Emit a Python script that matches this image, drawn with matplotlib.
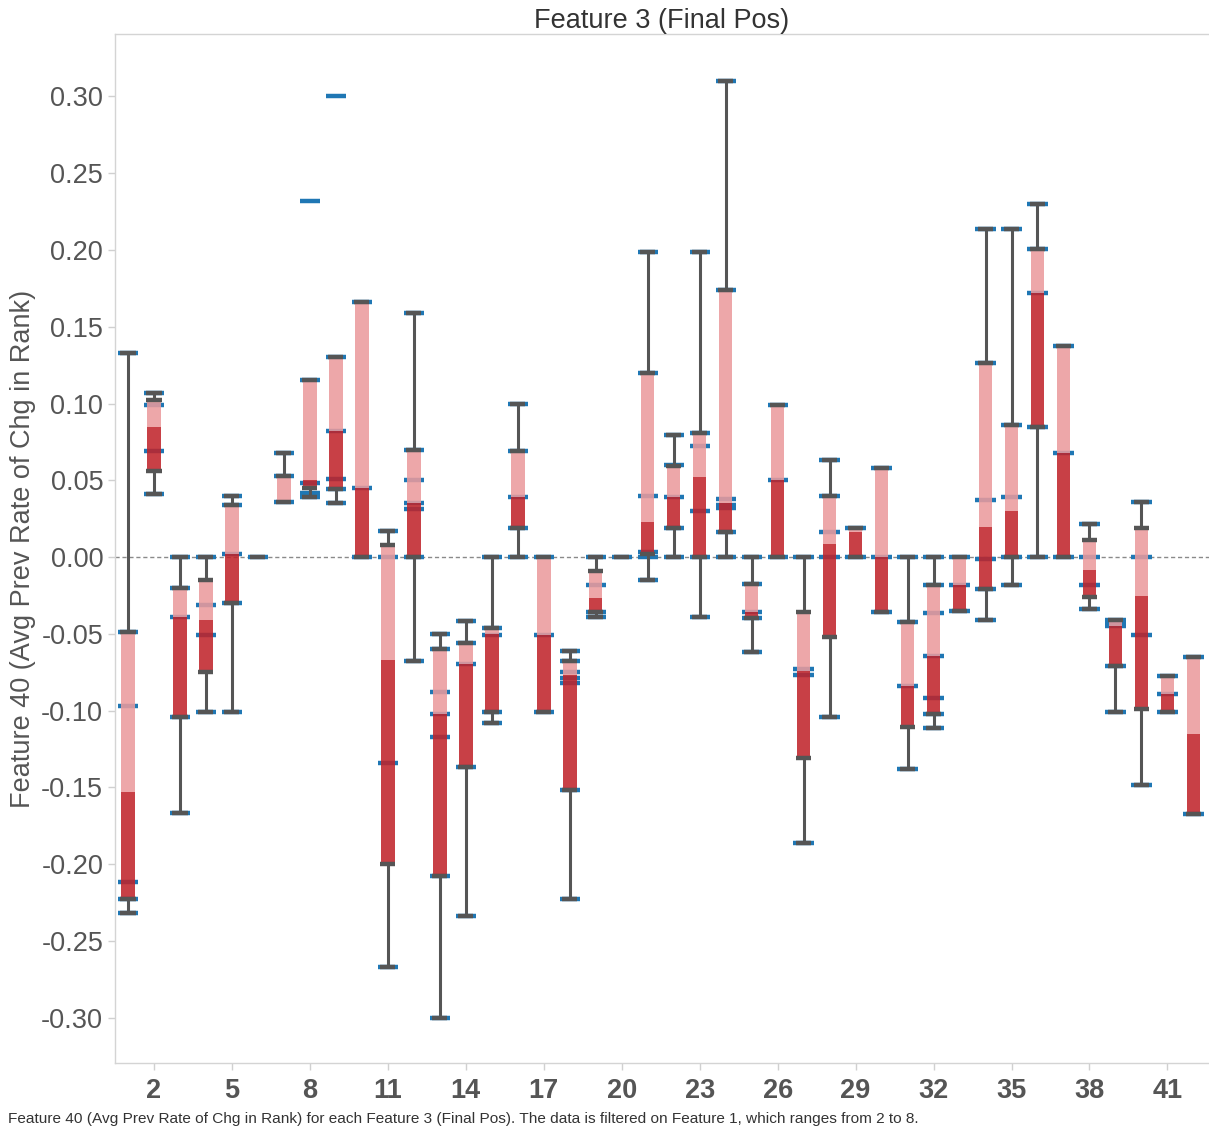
import matplotlib.pyplot as plt

plt.rcParams["font.family"] = ["Liberation Sans", "DejaVu Sans"]

# Feature 3 (Final Pos) categories
positions = list(range(1, 43))

# box plot summary per category
whisker_lo = [-0.232, 0.041, -0.167, -0.101, -0.101, 0.000, 0.036, 0.039, 0.035, 0.000,
              -0.267, -0.068, -0.300, -0.234, -0.108, 0.000, -0.101, -0.223, -0.039, 0.000,
              -0.015, 0.000, -0.039, 0.000, -0.062, 0.000, -0.186, -0.1045, 0.000, -0.036,
              -0.138, -0.1116, -0.035, -0.041, -0.018, 0.000, 0.000, -0.034, -0.101, -0.1485,
              -0.101, -0.1674]
q1 = [-0.223, 0.056, -0.104, -0.075, -0.030, 0.000, 0.036, 0.045, 0.044, 0.000,
      -0.200, 0.000, -0.208, -0.137, -0.101, 0.019, -0.101, -0.152, -0.036, 0.000,
      0.002, 0.019, 0.000, 0.0165, -0.040, 0.000, -0.131, -0.052, 0.000, -0.036,
      -0.111, -0.102, -0.035, -0.021, 0.000, 0.0849, 0.000, -0.026, -0.071, -0.0992,
      -0.101, -0.1674]
median = [-0.153, 0.085, -0.039, -0.041, 0.002, 0.000, 0.036, 0.050, 0.082, 0.045,
          -0.067, 0.035, -0.102, -0.070, -0.050, 0.039, -0.051, -0.077, -0.0265, 0.000,
          0.023, 0.039, 0.052, 0.0355, -0.036, 0.050, -0.074, 0.0085, 0.0165, 0.000,
          -0.084, -0.0645, -0.018, 0.0193, 0.030, 0.1718, 0.0675, -0.0085, -0.045, -0.0254,
          -0.0895, -0.1153]
q3 = [-0.049, 0.102, -0.020, -0.015, 0.034, 0.000, 0.053, 0.115, 0.130, 0.166,
      0.008, 0.070, -0.060, -0.056, -0.046, 0.069, 0.000, -0.068, -0.009, 0.000,
      0.120, 0.0595, 0.0805, 0.174, -0.0175, 0.099, -0.036, 0.040, 0.0187, 0.058,
      -0.0425, -0.018, 0.000, 0.1266, 0.086, 0.2006, 0.1375, 0.011, -0.041, 0.0187,
      -0.0775, -0.065]
whisker_hi = [0.133, 0.107, 0.000, 0.000, 0.040, 0.000, 0.068, 0.115, 0.130, 0.166,
              0.017, 0.159, -0.050, -0.042, 0.000, 0.0995, 0.000, -0.061, 0.000, 0.000,
              0.199, 0.0795, 0.199, 0.310, 0.000, 0.099, 0.000, 0.0635, 0.0187, 0.058,
              0.000, 0.000, 0.000, 0.2135, 0.2135, 0.2297, 0.1375, 0.0215, -0.041, 0.0356,
              -0.0775, -0.065]

# individual values (one list per category)
point_values = [
    [0.133, -0.049, -0.097, -0.212, -0.223, -0.232],
    [0.107, 0.099, 0.069, 0.041],
    [0.0, -0.020, -0.039, -0.104, -0.167],
    [0.0, -0.031, -0.051, -0.101],
    [0.040, 0.034, 0.002, -0.030, -0.101],
    [0.0],
    [0.068, 0.053, 0.036],
    [0.232, 0.115, 0.048, 0.042, 0.039],
    [0.300, 0.130, 0.082, 0.051, 0.044, 0.035],
    [0.166, 0.045, 0.0],
    [0.017, 0.0, -0.134, -0.267],
    [0.159, 0.070, 0.050, 0.035, 0.031, 0.0, -0.068],
    [-0.050, -0.060, -0.088, -0.102, -0.117, -0.208, -0.300],
    [-0.042, -0.056, -0.070, -0.137, -0.234],
    [0.0, -0.046, -0.051, -0.101, -0.108],
    [0.0995, 0.069, 0.039, 0.019, 0.0],
    [0.0, -0.051, -0.101],
    [-0.061, -0.068, -0.075, -0.079, -0.082, -0.152, -0.223],
    [0.0, -0.018, -0.036, -0.039],
    [0.0],
    [0.199, 0.120, 0.040, 0.003, 0.0, -0.015],
    [0.0795, 0.060, 0.039, 0.019, 0.0],
    [0.199, 0.0805, 0.072, 0.030, 0.0, -0.039],
    [0.310, 0.174, 0.038, 0.034, 0.032, 0.0165, 0.0],
    [0.0, -0.0175, -0.036, -0.040, -0.062],
    [0.099, 0.050, 0.0],
    [0.0, -0.073, -0.077, -0.186],
    [0.0635, 0.040, 0.0165, 0.0, -0.1045],
    [0.0187, 0.0],
    [0.058, 0.0, -0.036],
    [0.0, -0.0425, -0.084, -0.138],
    [0.0, -0.018, -0.0367, -0.0645, -0.092, -0.102, -0.1116],
    [0.0, -0.018, -0.035],
    [0.2135, 0.1266, 0.037, -0.001, -0.021, -0.041],
    [0.2135, 0.086, 0.039, 0.0, -0.018],
    [0.2297, 0.2006, 0.1718, 0.0849, 0.0],
    [0.1375, 0.0675, 0.0],
    [0.0215, 0.0, -0.018, -0.034],
    [-0.041, -0.043, -0.045, -0.071, -0.101],
    [0.0356, 0.0, -0.051, -0.1485],
    [-0.0775, -0.0895, -0.101],
    [-0.065, -0.1674],
]

tick_positions = list(range(2, 43, 3))
y_ticks = [0.30, 0.25, 0.20, 0.15, 0.10, 0.05, 0.00, -0.05, -0.10, -0.15, -0.20, -0.25, -0.30]

TEXT = "#555555"
PINK = "#eb9a9c"
RED = "#c0242a"
BLUE = "#1f77b4"
GREY = "#555555"

fig = plt.figure(figsize=(12.09, 11.28), dpi=100)
ax = fig.add_axes([115 / 1209, 1 - 1063 / 1128, 1 - 115 / 1209, (1063 - 34) / 1128])

ax.axhline(0, color="#8a8a8a", lw=1, ls=(0, (3, 2)), zorder=1)

# blue value marks sit underneath the boxes
for x, vals in zip(positions, point_values):
    ax.hlines(vals, x - 0.39, x + 0.39, color=BLUE, lw=3.2, zorder=2)

box_w = 0.52
for i, x in enumerate(positions):
    # whiskers stop at the box edges
    ax.vlines(x, whisker_lo[i], q1[i], color=GREY, lw=2.2, zorder=3)
    ax.vlines(x, q3[i], whisker_hi[i], color=GREY, lw=2.2, zorder=3)
    ax.bar(x, median[i] - q1[i], bottom=q1[i], width=box_w, color=RED,
           alpha=0.87, lw=0, zorder=4)
    ax.bar(x, q3[i] - median[i], bottom=median[i], width=box_w, color=PINK,
           alpha=0.87, lw=0, zorder=4)
    caps = {whisker_lo[i], q1[i], q3[i], whisker_hi[i]}
    ax.hlines(sorted(caps), x - 0.29, x + 0.29, color=GREY, lw=3.2, zorder=5)

ax.set_xlim(0.5, 42.6)
ax.set_ylim(-0.3296, 0.3407)
ax.set_yticks(y_ticks)
ax.set_yticklabels([f"{v:.2f}" for v in y_ticks])
ax.set_xticks(tick_positions)
ax.set_xticklabels([str(t) for t in tick_positions], fontweight="bold")
ax.tick_params(axis="y", labelsize=19.5, colors="#d0d0d0", labelcolor=TEXT, length=5, width=1)
ax.tick_params(axis="x", labelsize=19.5, colors="#d0d0d0", labelcolor=TEXT, length=5,
               width=1, pad=6)

for side in ["top", "left", "bottom"]:
    ax.spines[side].set_color("#d4d4d4")
    ax.spines[side].set_linewidth(1)
ax.spines["right"].set_visible(False)

ax.set_title("Feature 3 (Final Pos)", fontsize=19.5, color="#333333", pad=2)
ax.set_ylabel("Feature 40 (Avg Prev Rate of Chg in Rank)", fontsize=19.5, color=TEXT,
              labelpad=4)

fig.text(8 / 1209, 1 - 1119 / 1128,
         "Feature 40 (Avg Prev Rate of Chg in Rank) for each Feature 3 (Final Pos). "
         "The data is filtered on Feature 1, which ranges from 2 to 8.",
         fontsize=11.1, color="#333333", va="center", ha="left")

fig.savefig("out.png", dpi=100)
